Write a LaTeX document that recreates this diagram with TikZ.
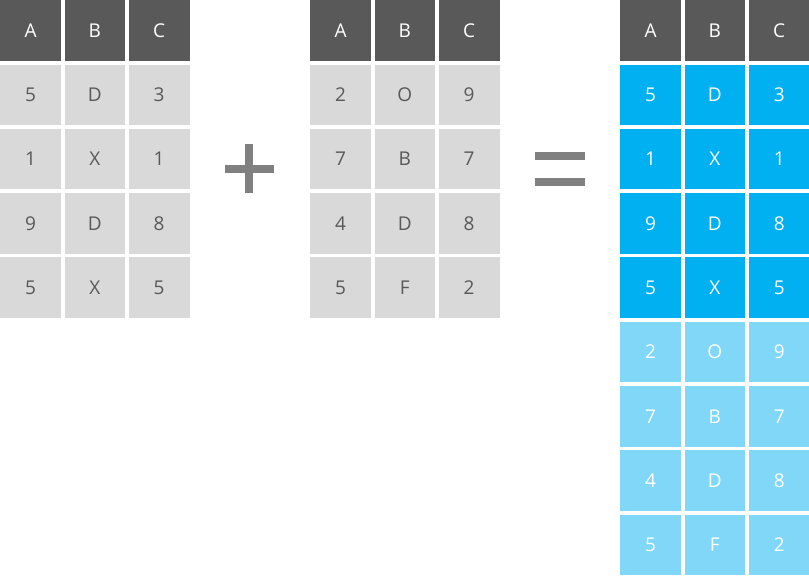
\documentclass[tikz,border=0pt]{standalone}
\usepackage{fontspec}
\setmainfont{Open Sans}
\definecolor{hdr}{HTML}{595959}
\definecolor{cellgray}{HTML}{D9D9D9}
\definecolor{txtgray}{HTML}{595959}
\definecolor{blue1}{HTML}{00B0F0}
\definecolor{blue2}{HTML}{80D7F7}
\definecolor{signgray}{HTML}{808080}
\tikzset{
  cell/.style={anchor=north west, inner sep=0pt, minimum width=60.7pt, minimum height=60.5pt,
    font=\fontsize{19}{22}\selectfont, text height=13.5pt, text depth=0pt},
  hcell/.style={cell, fill=hdr, text=white},
  gcell/.style={cell, fill=cellgray, text=txtgray},
  bcell/.style={cell, fill=blue1, text=white},
  lcell/.style={cell, fill=blue2, text=white},
  sign/.style={fill=signgray, draw=none}
}
\begin{document}
\begin{tikzpicture}[x=1pt,y=-1pt]
\useasboundingbox (0,0) rectangle (809,576);
% headers
\foreach \t/\x in {L/0, M/310, R/620}{
  \foreach \c/\h [count=\i from 0] in {a/A, b/B, c/C}{
    \node[hcell] (\t-0-\c) at (\x+\i*64.3, 0) {\h};
  }
}
% left table
\foreach \r/\va/\vb/\vc in {1/5/D/3, 2/1/X/1, 3/9/D/8, 4/5/X/5}{
  \node[gcell] (L-\r-a) at (0, \r*64.3) {\va};
  \node[gcell] (L-\r-b) at (64.3, \r*64.3) {\vb};
  \node[gcell] (L-\r-c) at (128.6, \r*64.3) {\vc};
  \node[bcell] (R-\r-a) at (620, \r*64.3) {\va};
  \node[bcell] (R-\r-b) at (684.3, \r*64.3) {\vb};
  \node[bcell, minimum width=61pt] (R-\r-c) at (748.6, \r*64.3) {\vc};
}
% middle table
\foreach \r/\va/\vb/\vc in {1/2/O/9, 2/7/B/7, 3/4/D/8, 4/5/F/2}{
  \node[gcell] (M-\r-a) at (310, \r*64.3) {\va};
  \node[gcell] (M-\r-b) at (374.3, \r*64.3) {\vb};
  \node[gcell] (M-\r-c) at (438.6, \r*64.3) {\vc};
  \node[lcell] (S-\r-a) at (620, \r*64.3+4*64.3) {\va};
  \node[lcell] (S-\r-b) at (684.3, \r*64.3+4*64.3) {\vb};
  \node[lcell, minimum width=61pt] (S-\r-c) at (748.6, \r*64.3+4*64.3) {\vc};
}
% plus sign
\fill[sign] (245,144) rectangle (253,193);
\fill[sign] (225,165) rectangle (274,173);
% equals sign
\fill[sign] (535,152) rectangle (585,159.5);
\fill[sign] (535,178) rectangle (585,185.5);
\end{tikzpicture}
\end{document}
